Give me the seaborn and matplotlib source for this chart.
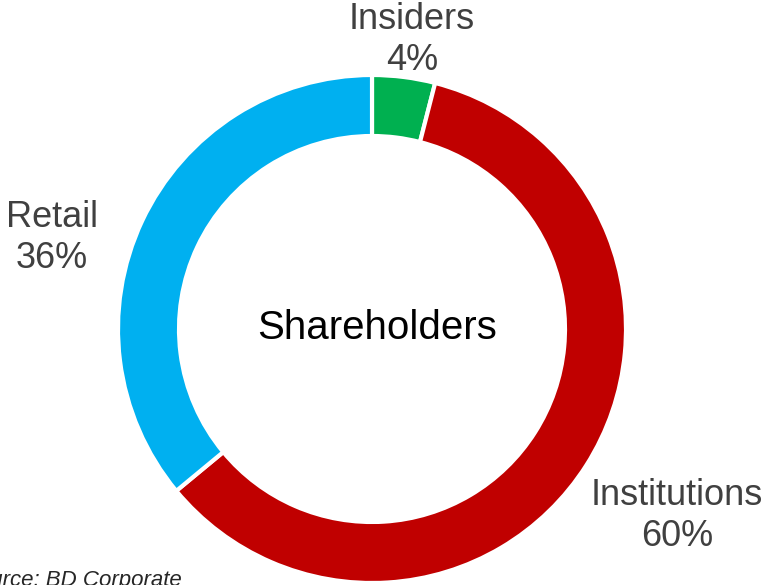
import matplotlib.pyplot as plt
import seaborn as sns

# data
labels = ["Insiders", "Institutions", "Retail"]
shares = [4, 60, 36]
colors = ["#00B050", "#C00000", "#00B0F0"]

sns.set_theme(style="white")
plt.rcParams["font.family"] = ["Liberation Sans", "DejaVu Sans"]

W, H = 769, 585
fig = plt.figure(figsize=(W / 100, H / 100), dpi=100)
ax = fig.add_axes([0, 0, 1, 1])

cx, cy, r_out, width = 372, 329, 254, 61

# pie in an inverted y-axis: counterclock=True draws clockwise on screen
ax.pie(shares, colors=colors, center=(cx, cy), radius=r_out,
       startangle=-90, counterclock=True, frame=True,
       wedgeprops=dict(width=width, edgecolor="white", linewidth=3))
ax.set_xlim(0, W)
ax.set_ylim(H, 0)
ax.set_aspect("equal")
ax.axis("off")

label_pos = {"Insiders": (412, 40), "Institutions": (677, 516), "Retail": (52, 238)}
for lab, val in zip(labels, shares):
    x, y = label_pos[lab]
    ax.text(x, y, f"{lab}\n{val}%", ha="center", va="center", fontsize=26,
            color="#404040", linespacing=1.2)

ax.text(377, 328, "Shareholders", ha="center", va="center", fontsize=29, color="black")
ax.text(182, 570, "Source: BD Corporate", ha="right", va="top", fontsize=16,
        style="italic", color="#262626")

fig.savefig("out.png", dpi=100)
